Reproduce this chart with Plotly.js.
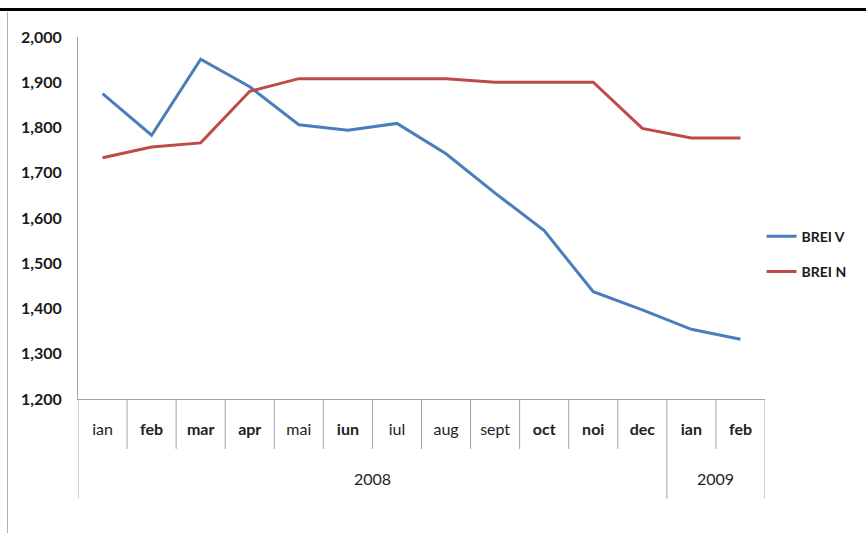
<!DOCTYPE html>
<html>
<head>
<meta charset="utf-8">
<script src="https://cdn.plot.ly/plotly-3.0.1.min.js"></script>
<style>
  html, body { margin: 0; padding: 0; background: #ffffff; }
  #wrap { position: relative; width: 866px; height: 533px; overflow: hidden; }
  #chart { width: 866px; height: 533px; }
  .frame-top { position: absolute; left: 0; top: 8px; width: 866px; height: 3px; background: #000; pointer-events: none; }
  .frame-left { position: absolute; left: 7px; top: 12px; width: 1px; height: 521px; background: #b0b0b0; pointer-events: none; }
</style>
</head>
<body>
<div id="wrap">
  <div id="chart"></div>
  <div class="frame-top"></div>
  <div class="frame-left"></div>
</div>
<script>
// Monthly values, Jan 2008 - Feb 2009
const months = ['ian', 'feb', 'mar', 'apr', 'mai', 'iun', 'iul', 'aug', 'sept', 'oct', 'noi', 'dec', 'ian', 'feb'];
const years  = ['2008', '2008', '2008', '2008', '2008', '2008', '2008', '2008', '2008', '2008', '2008', '2008', '2009', '2009'];
const breiV  = [1875, 1783, 1951, 1890, 1806, 1794, 1809, 1742, 1655, 1572, 1437, 1397, 1354, 1332];
const breiN  = [1733, 1757, 1766, 1880, 1908, 1908, 1908, 1908, 1900, 1900, 1900, 1798, 1777, 1777];
const seriesNames = ['BREI V', 'BREI N'];

// Axis settings
const yTicks = [1200, 1300, 1400, 1500, 1600, 1700, 1800, 1900, 2000];
const gridLevels = [1200, 1300, 1600, 1700, 2000];
const boldMonthIdx = [1, 2, 3, 5, 9, 10, 11, 12, 13];

const FONT = 'Lato, "Open Sans", Arial, sans-serif';
const GRID = '#a3a3a3';
const idx = months.map((_, i) => i);
const fmt = v => v.toLocaleString('en-US');

const traces = [
  { x: idx, y: breiV, name: seriesNames[0], type: 'scatter', mode: 'lines',
    line: { color: '#4A7EBB', width: 3 }, legendgroup: 'v', hoverinfo: 'y' },
  { x: idx, y: breiN, name: seriesNames[1], type: 'scatter', mode: 'lines',
    line: { color: '#BE4B48', width: 3 }, legendgroup: 'n', hoverinfo: 'y' }
];

// Category separators below the axis: short between months, long at year edges
const plotH = 533 - 37 - 133.5;
const monthSep = -(50 / plotH);
const yearSep = -(100 / plotH);
const yearEdges = [0];
for (let i = 1; i < years.length; i++) if (years[i] !== years[i - 1]) yearEdges.push(i);
yearEdges.push(years.length);

const shapes = [];
for (let i = 0; i <= months.length; i++) {
  shapes.push({
    type: 'line', xref: 'x', yref: 'paper', x0: i - 0.5, x1: i - 0.5,
    y0: 0, y1: yearEdges.includes(i) ? yearSep : monthSep,
    line: { color: GRID, width: 1 }
  });
}

// Year labels centred under their months
const annotations = [];
for (let k = 0; k < yearEdges.length - 1; k++) {
  const a = yearEdges[k], b = yearEdges[k + 1];
  annotations.push({
    xref: 'x', yref: 'paper', x: (a + b - 1) / 2, y: -(80 / plotH),
    text: years[a], showarrow: false, yanchor: 'middle',
    font: { family: FONT, size: 16, color: '#222' }
  });
}

const layout = {
  width: 866, height: 533,
  margin: { l: 78, r: 101, t: 37, b: 133.5 },
  paper_bgcolor: '#ffffff', plot_bgcolor: '#ffffff',
  showlegend: true,
  legend: {
    x: 0.995, xanchor: 'left', y: 0.40, yanchor: 'middle',
    font: { family: FONT, size: 14, color: '#1a1a1a', weight: 'bold' },
    tracegroupgap: 14, bgcolor: 'rgba(0,0,0,0)'
  },
  xaxis: {
    range: [-0.5, months.length - 0.5],
    tickvals: idx,
    ticktext: months.map((m, i) => boldMonthIdx.includes(i) ? '<b>' + m + '</b>' : m),
    ticks: '', showgrid: false, zeroline: false,
    showline: true, linecolor: GRID, linewidth: 1,
    ticklabelstandoff: 16,
    tickfont: { family: FONT, size: 16, color: '#222' },
    fixedrange: true
  },
  yaxis: {
    range: [1200, 2000],
    tickvals: yTicks, ticktext: yTicks.map(fmt),
    ticks: 'outside', ticklen: 7, tickcolor: 'rgba(0,0,0,0)',
    ticklabelstandoff: 5,
    showgrid: false, zeroline: false,
    showline: true, linecolor: GRID, linewidth: 1,
    tickfont: { family: FONT, size: 16, color: '#1a1a1a', weight: 'bold' },
    fixedrange: true
  },
  yaxis2: {
    overlaying: 'y', side: 'left', range: [1200, 2000],
    tickvals: gridLevels, showticklabels: false,
    ticks: 'outside', ticklen: 7, tickcolor: GRID,
    showgrid: true, gridcolor: GRID, gridwidth: 1,
    zeroline: false, showline: false, fixedrange: true
  },
  shapes: shapes,
  annotations: annotations
};

Plotly.newPlot('chart', traces, layout, { displayModeBar: false, staticPlot: true });
</script>
</body>
</html>
